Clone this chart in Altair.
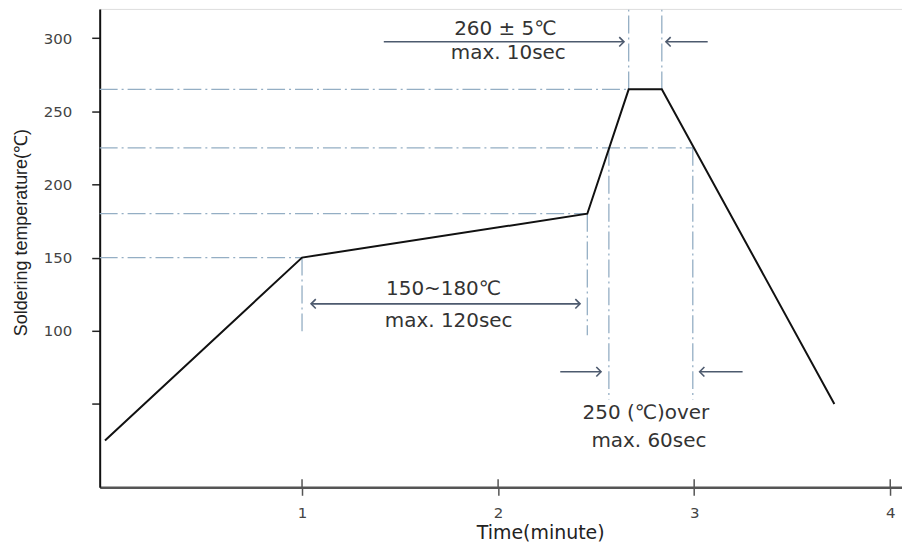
import altair as alt
import pandas as pd

# ---- data ----
profile_t = [-0.005, 1.0, 2.455, 2.666, 2.835, 3.715]
profile_v = [25, 150, 180, 265, 265, 50]

# dashed guide lines (time start, time end, temp start, temp end)
guide_t1 = [-0.032, -0.032, -0.032, -0.032, 1.0, 2.455, 2.565, 2.993, 2.666, 2.835]
guide_t2 = [2.666, 2.993, 2.455, 1.0, 1.0, 2.455, 2.565, 2.993, 2.666, 2.835]
guide_v1 = [265, 225, 180, 150, 150, 180, 225, 225, 265, 265]
guide_v2 = [265, 225, 180, 150, 98, 97, 53, 53, 320, 320]

# arrow shafts
shaft_t1 = [1.417, 3.069, 1.046, 2.317, 3.247]
shaft_t2 = [2.642, 2.856, 2.418, 2.525, 3.028]
shaft_v = [297.5, 297.5, 118.4, 72.0, 72.0]

# arrow heads
head_right_t = [2.642, 2.418, 2.525]
head_right_v = [297.5, 118.4, 72.0]
head_left_t = [2.856, 1.046, 3.028]
head_left_v = [297.5, 118.4, 72.0]

# annotation texts
note_text = ["260 ± 5℃", "max. 10sec", "150~180℃", "max. 120sec", "250 (℃)over", "max. 60sec"]
note_t = [2.037, 2.052, 1.722, 1.748, 2.754, 2.769]
note_v = [306.4, 290.0, 128.6, 106.8, 44.1, 24.4]

x_ticks = [1, 2, 3, 4]
y_ticks = [50, 100, 150, 200, 250, 300]
x_domain = [-0.032, 4.06]
y_domain = [-7, 320]

# ---- frames ----
prof = pd.DataFrame({"t": profile_t, "v": profile_v, "o": list(range(len(profile_t)))})
guides = pd.DataFrame({"t": guide_t1, "t2": guide_t2, "v": guide_v1, "v2": guide_v2})
shafts = pd.DataFrame({"t": shaft_t1, "t2": shaft_t2, "v": shaft_v})
heads_r = pd.DataFrame({"t": head_right_t, "v": head_right_v})
heads_l = pd.DataFrame({"t": head_left_t, "v": head_left_v})
notes = pd.DataFrame({"txt": note_text, "t": note_t, "v": note_v})
ticks_in = pd.DataFrame({"t": x_ticks, "v": [y_domain[0]] * 4, "v2": [-1.5] * 4})

xs = alt.Scale(domain=x_domain, nice=False, zero=False)
ys = alt.Scale(domain=y_domain, nice=False, zero=False)

X = alt.X("t:Q", scale=xs, axis=alt.Axis(
    values=x_ticks, format="d", title="Time(minute)", grid=False,
    tickSize=8, tickColor="#555", tickWidth=1.5, domainColor="#555", domainWidth=2.5,
    labelFont="DejaVu Sans", labelFontSize=15, labelColor="#444", labelPadding=10,
    titleFont="DejaVu Sans", titleFontSize=19, titleFontWeight="normal", titleColor="#222",
    titleX=442, titleY=45, titleBaseline="middle", titleAlign="center"))
Y = alt.Y("v:Q", scale=ys, axis=alt.Axis(
    values=y_ticks, title="Soldering temperature(℃)", grid=False,
    labelExpr="datum.value == 50 ? '' : datum.label",
    tickSize=8, tickColor="#222", tickWidth=1.5, domainColor="#111", domainWidth=2,
    labelFont="DejaVu Sans", labelFontSize=15, labelColor="#444", labelPadding=20,
    titleFont="Liberation Sans", titleFontSize=18, titleFontWeight="normal", titleColor="#222",
    titleX=-78, titleY=224, titleBaseline="middle", titleAlign="center", titleAngle=270))

guide_layer = alt.Chart(guides).mark_rule(
    color="#94aec4", strokeWidth=1.3, strokeDash=[18, 4, 2, 4]
).encode(x=X, x2="t2:Q", y=Y, y2="v2:Q")

profile_layer = alt.Chart(prof).mark_line(color="#111", strokeWidth=2).encode(
    x=alt.X("t:Q", scale=xs), y=alt.Y("v:Q", scale=ys), order="o:Q")

shaft_layer = alt.Chart(shafts).mark_rule(color="#4d5a6e", strokeWidth=1.6).encode(
    x=alt.X("t:Q", scale=xs), x2="t2:Q", y=alt.Y("v:Q", scale=ys))

head_r_layer = alt.Chart(heads_r).mark_point(
    shape="M -1 -1 L 0 0 L -1 1", filled=False, size=90, color="#4d5a6e", strokeWidth=1.6, opacity=1
).encode(x=alt.X("t:Q", scale=xs), y=alt.Y("v:Q", scale=ys))

head_l_layer = alt.Chart(heads_l).mark_point(
    shape="M 1 -1 L 0 0 L 1 1", filled=False, size=90, color="#4d5a6e", strokeWidth=1.6, opacity=1
).encode(x=alt.X("t:Q", scale=xs), y=alt.Y("v:Q", scale=ys))

note_layer = alt.Chart(notes).mark_text(
    font="DejaVu Sans", fontSize=20, color="#333", align="center", baseline="middle"
).encode(x=alt.X("t:Q", scale=xs), y=alt.Y("v:Q", scale=ys), text="txt:N")

tick_in_layer = alt.Chart(ticks_in).mark_rule(color="#555", strokeWidth=1.5).encode(
    x=alt.X("t:Q", scale=xs), y=alt.Y("v:Q", scale=ys), y2="v2:Q")

chart = alt.layer(
    guide_layer, profile_layer, shaft_layer, head_r_layer, head_l_layer, note_layer, tick_in_layer
).properties(
    width=805, height=480,
    padding={"left": 92, "top": 0, "right": 0, "bottom": 56},
    autosize=alt.AutoSizeParams(type="none"),
).configure_view(stroke=None).configure(background="white")

chart.save("out.html", embed_options={"renderer": "svg", "actions": False})
